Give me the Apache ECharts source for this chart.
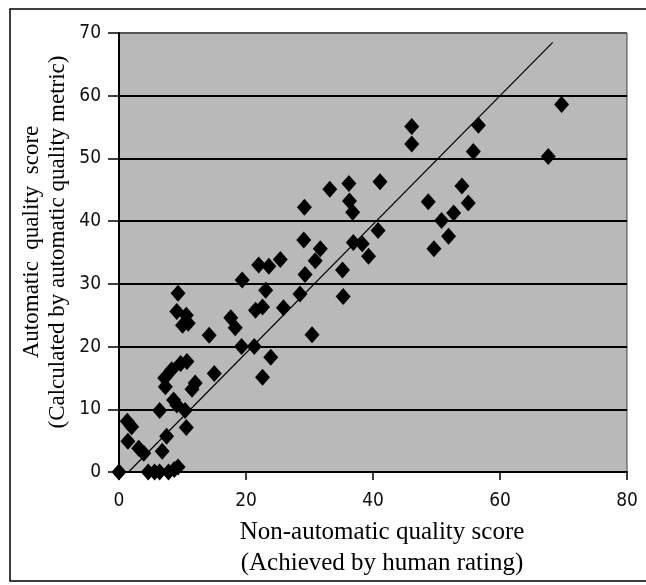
<!DOCTYPE html>
<html>
<head>
<meta charset="utf-8">
<script src="https://cdn.jsdelivr.net/npm/echarts@6/dist/echarts.min.js"></script>
<style>
html,body{margin:0;padding:0;background:#fff;}
#chart{width:646px;height:585px;}
</style>
</head>
<body>
<div id="chart"></div>
<script>
// Data
const xTicks = [0, 20, 40, 60, 80];
const yTicks = [0, 10, 20, 30, 40, 50, 60, 70];
const points = [
  [0, 0], [4.6, 0], [5.6, 0], [6.4, 0], [7.8, 0], [8.7, 0.4], [9.3, 0.8],
  [1.3, 8.1], [2.0, 7.2], [1.4, 4.9], [3.1, 3.8], [3.9, 3.0], [6.8, 3.3],
  [7.5, 5.7], [6.4, 9.8], [9.1, 10.7], [10.4, 9.8], [10.6, 7.1], [8.6, 11.5],
  [7.3, 13.6], [7.2, 15.0], [8.3, 16.3], [9.7, 17.3], [10.7, 17.6], [11.5, 13.2],
  [12.0, 14.2], [15.0, 15.7], [14.2, 21.8], [9.3, 28.5], [9.1, 25.6], [10.6, 25.0],
  [10.0, 23.4], [10.9, 23.7], [17.6, 24.6], [18.3, 23.0], [19.4, 30.6], [19.3, 20.0],
  [21.3, 20.0], [23.9, 18.3], [22.6, 15.1], [21.5, 25.8], [22.6, 26.3], [25.9, 26.2],
  [23.1, 29.0], [22.0, 33.0], [23.6, 32.8], [25.4, 33.9], [28.5, 28.4], [30.4, 21.9],
  [29.3, 31.5], [30.9, 33.7], [31.7, 35.6], [29.1, 37.0], [29.2, 42.2], [33.2, 45.1],
  [36.2, 46.0], [36.3, 43.2], [36.8, 41.4], [41.1, 46.3], [35.2, 32.2], [35.3, 28.0],
  [36.9, 36.6], [38.3, 36.4], [39.3, 34.4], [40.8, 38.5], [46.1, 55.1], [46.1, 52.3],
  [56.6, 55.3], [55.8, 51.1], [54.0, 45.6], [55.0, 42.9], [48.7, 43.1], [52.7, 41.3],
  [50.8, 40.1], [51.9, 37.6], [49.6, 35.6], [69.7, 58.6], [67.6, 50.3]
];
const fitLine = [[1.5, 0], [68.3, 68.5]];
const xTitle = ['Non-automatic quality score', '(Achieved by human rating)'];
const yTitle = ['Automatic  quality  score', '(Calculated by automatic quality metric)'];

const chart = echarts.init(document.getElementById('chart'), null, {renderer: 'canvas'});
const tickFont = {fontFamily: "'Liberation Sans Narrow','DejaVu Sans Condensed','Liberation Sans',sans-serif", fontSize: 19, color: '#111'};

chart.setOption({
  animation: false,
  backgroundColor: '#fff',
  grid: {left: 119, right: 19, top: 33, bottom: 113, show: true, backgroundColor: '#b9b9b9', borderColor: '#444', borderWidth: 1},
  xAxis: {
    type: 'value', min: xTicks[0], max: xTicks[xTicks.length - 1], interval: 20,
    axisLine: {show: true, onZero: false, lineStyle: {color: '#000', width: 2}},
    axisTick: {show: true, length: 8, lineStyle: {color: '#000', width: 1.5}},
    axisLabel: Object.assign({margin: 20}, tickFont),
    splitLine: {show: false}
  },
  yAxis: {
    type: 'value', min: yTicks[0], max: yTicks[yTicks.length - 1], interval: 10,
    axisLine: {show: true, onZero: false, lineStyle: {color: '#000', width: 2}},
    axisTick: {show: true, length: 11, lineStyle: {color: '#000', width: 1.5}},
    axisLabel: Object.assign({margin: 18}, tickFont),
    splitLine: {show: true, lineStyle: {color: ['#000', '#000', '#000', '#000', '#000', '#000', '#000', '#555'], width: 2}}
  },
  series: [
    {
      type: 'line', data: fitLine, symbol: 'none', silent: true,
      lineStyle: {color: '#000', width: 1.2}, z: 3
    },
    {
      type: 'scatter', data: points, symbol: 'diamond', symbolSize: [15, 17],
      itemStyle: {color: '#000', opacity: 1}, z: 4
    }
  ],
  graphic: [
    {
      type: 'rect', shape: {x: 10, y: 9, width: 700, height: 572},
      style: {fill: null, stroke: '#000', lineWidth: 1.5}, silent: true
    },
    {
      type: 'text', x: 382, y: 548,
      style: {text: xTitle.join('\n'), font: "25px 'Liberation Serif', serif", fill: '#000',
              textAlign: 'center', textVerticalAlign: 'middle', lineHeight: 31}
    },
    {
      type: 'text', x: 45, y: 242, rotation: Math.PI / 2,
      style: {text: yTitle.join('\n'), font: "23px 'Liberation Serif', serif", fill: '#000',
              textAlign: 'center', textVerticalAlign: 'middle', lineHeight: 26}
    }
  ]
});
</script>
</body>
</html>
